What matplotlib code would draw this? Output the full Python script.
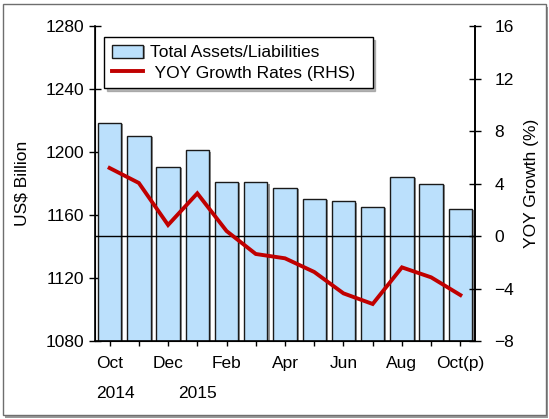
import matplotlib
matplotlib.use("Agg")
import matplotlib.pyplot as plt
import matplotlib.patheffects as pe
from matplotlib.patches import Rectangle
import numpy as np

plt.rcParams['font.family'] = ['Liberation Sans', 'DejaVu Sans']

months = ["Oct", "Nov", "Dec", "Jan", "Feb", "Mar", "Apr", "May", "Jun", "Jul", "Aug", "Sep", "Oct(p)"]
tick_labels = ["Oct", "", "Dec", "", "Feb", "", "Apr", "", "Jun", "", "Aug", "", "Oct(p)"]
total_assets = [1218.6, 1210.4, 1190.5, 1201.1, 1181.2, 1180.8, 1177.4, 1170.4, 1168.7, 1165.3, 1184.3, 1179.7, 1164.0]
yoy_growth = [5.18, 4.04, 0.84, 3.25, 0.38, -1.37, -1.70, -2.74, -4.37, -5.18, -2.39, -3.15, -4.50]
years = [("2014", 0.2), ("2015", 3.0)]

FS = 12.5
W, H = 549, 419
fig = plt.figure(figsize=(W / 100, H / 100), dpi=100)

# outer frame with shadow
fig.patches.append(Rectangle((5 / W, 1 / H), 543 / W, 411 / H, transform=fig.transFigure,
                             facecolor='#9a9a9a', edgecolor='none', zorder=-2))
fig.patches.append(Rectangle((3 / W, 4 / H), 543 / W, 411 / H, transform=fig.transFigure,
                             facecolor='white', edgecolor='#6e6e6e', lw=1.0, zorder=-1))

ax = fig.add_axes([95 / W, (H - 341) / H, 380 / W, 315 / H])
ax.set_facecolor('none')
x = np.arange(len(months))
bars = ax.bar(x, total_assets, width=0.8, bottom=0, color='#BBE0FC', edgecolor='#1a1a1a',
              linewidth=1.0, label='Total Assets/Liabilities', zorder=2)
for b in bars:
    b.set_path_effects([pe.SimplePatchShadow(offset=(1.5, -1.0), shadow_rgbFace='#7a7a7a', alpha=0.8), pe.Normal()])
ax.set_ylim(1080, 1280)
ax.set_xlim(-0.5, len(months) - 0.5)
ax.set_yticks([1080, 1120, 1160, 1200, 1240, 1280])
ax.set_xticks(x)
ax.set_xticklabels(tick_labels)
ax.set_ylabel("US$ Billion", fontsize=FS, labelpad=11)
ax.tick_params(axis='y', direction='inout', length=8, width=1, labelsize=FS, pad=4)
ax.tick_params(axis='x', direction='inout', length=7, width=1, labelsize=FS, pad=7)
ax.spines['top'].set_visible(False)
for s in ['left', 'bottom', 'right']:
    ax.spines[s].set_linewidth(1.2)

ax2 = ax.twinx()
ax2.set_ylim(-8, 16)
ax2.set_yticks([-8, -4, 0, 4, 8, 12, 16])
ax2.axhline(0, color='black', lw=1.0, zorder=1)
line, = ax2.plot(x, yoy_growth, color='#C00000', lw=2.8, label='YOY Growth Rates (RHS)',
                 solid_joinstyle='miter', zorder=3)
ax2.set_ylabel("YOY Growth (%)", fontsize=FS, labelpad=7)
ax2.tick_params(axis='y', direction='inout', length=8, width=1, labelsize=FS, pad=10)
ax2.spines['top'].set_visible(False)
ax2.spines['right'].set_linewidth(1.2)

for label, xpos in years:
    ax.text(xpos, -0.168, label, transform=ax.get_xaxis_transform(), ha='center', va='center', fontsize=FS)

leg = ax2.legend([bars, line], ['Total Assets/Liabilities', ' YOY Growth Rates (RHS)  '],
                 loc='upper left', bbox_to_anchor=(9 / 380, 304 / 315), borderaxespad=0,
                 fontsize=FS, frameon=True, fancybox=False, shadow={'color': '#888888', 'alpha': 0.6},
                 edgecolor='black', handlelength=1.8, handleheight=0.8, borderpad=0.45,
                 labelspacing=0.25, handletextpad=0.4)
leg.get_frame().set_linewidth(1.0)

fig.savefig("out.png", dpi=100)
